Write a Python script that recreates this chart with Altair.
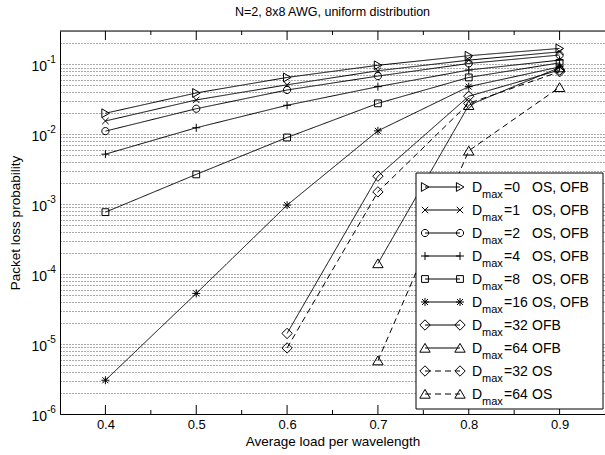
import altair as alt
import pandas as pd

# ---------------- data ----------------
loads = [0.4, 0.5, 0.6, 0.7, 0.8, 0.9]
plr_d0 = [0.020, 0.039, 0.065, 0.097, 0.133, 0.169]
plr_d1 = [0.0155, 0.031, 0.051, 0.081, 0.115, 0.151]
plr_d2 = [0.0111, 0.0232, 0.043, 0.068, 0.103, 0.136]
plr_d4 = [0.0052, 0.0124, 0.026, 0.048, 0.083, 0.115]
plr_d8 = [7.7e-4, 2.67e-3, 9.0e-3, 0.0277, 0.065, 0.105]
plr_d16 = [3.04e-6, 5.3e-5, 9.7e-4, 0.0112, 0.048, 0.092]
loads_d32 = [0.6, 0.7, 0.8, 0.9]
plr_d32_ofb = [1.42e-5, 2.52e-3, 0.035, 0.083]
plr_d32_os = [8.8e-6, 1.5e-3, 0.0277, 0.0785]
loads_d64 = [0.7, 0.8, 0.9]
plr_d64_ofb = [1.42e-4, 0.026, 0.09]
plr_d64_os = [5.8e-6, 5.8e-3, 0.047]

series_keys = ["d0", "d1", "d2", "d4", "d8", "d16", "d32ofb", "d64ofb", "d32os", "d64os"]
series_loads = [loads, loads, loads, loads, loads, loads, loads_d32, loads_d64, loads_d32, loads_d64]
series_plr = [plr_d0, plr_d1, plr_d2, plr_d4, plr_d8, plr_d16, plr_d32_ofb, plr_d64_ofb, plr_d32_os, plr_d64_os]
line_styles = ["solid"] * 8 + ["dashed"] * 2
legend_values = ["=0", "=1", "=2", "=4", "=8", "=16", "=32", "=64", "=32", "=64"]
legend_suffix = ["OS, OFB"] * 6 + ["OFB", "OFB", "OS", "OS"]

x_major = [0.4, 0.5, 0.6, 0.7, 0.8, 0.9]
x_minor = [0.45, 0.55, 0.65, 0.75, 0.85]
y_major = [1e-6, 1e-5, 1e-4, 1e-3, 1e-2, 1e-1]
y_exp = ["-6", "-5", "-4", "-3", "-2", "-1"]

title_text = "N=2, 8x8 AWG, uniform distribution"
x_title = "Average load per wavelength"
y_title = "Packet loss probability"

# marker shapes (unit paths)
shape_paths = [
    "M-0.9,-1.1L1,0L-0.9,1.1Z",                      # triangle right
    "M-0.8,-0.8L0.8,0.8M-0.8,0.8L0.8,-0.8",          # x
    "M0.9,0A0.9,0.9,0,1,1,-0.9,0A0.9,0.9,0,1,1,0.9,0Z",  # circle
    "M-1,0L1,0M0,-1L0,1",                            # +
    "M-0.85,-0.85H0.85V0.85H-0.85Z",                 # square
    "M-1,0L1,0M0,-1L0,1M-0.75,-0.75L0.75,0.75M-0.75,0.75L0.75,-0.75",  # asterisk
    "M0,-1.3L1.3,0L0,1.3L-1.3,0Z",                   # diamond
    "M0,-1.15L1.3,1.05L-1.3,1.05Z",                  # triangle up
    "M0,-1.3L1.3,0L0,1.3L-1.3,0Z",
    "M0,-1.15L1.3,1.05L-1.3,1.05Z",
]

FONT = "Liberation Sans"
W, H = 545, 383

rows = []
for key, xs_, ys_, st in zip(series_keys, series_loads, series_plr, line_styles):
    for a, b in zip(xs_, ys_):
        rows.append({"series": key, "load": a, "plr": b, "style": st})
df = pd.DataFrame(rows)

grid_vals = []
for k in range(-6, 0):
    for m in range(1, 10):
        v = m * 10 ** k
        if v < 0.25:
            grid_vals.append(v)

xs = alt.Scale(domain=[0.35, 0.95], nice=False, zero=False)
ys = alt.Scale(type="log", domain=[1e-6, 0.3], nice=False)

xaxis = alt.Axis(values=x_major, format=".1f", grid=False, ticks=False, tickSize=0,
                 labelFont=FONT, labelFontSize=13, labelColor="black", labelPadding=4,
                 domainColor="black", domainWidth=1, title=x_title, titleFont=FONT,
                 titleFontSize=13.5, titleFontWeight="normal", titleColor="black", titlePadding=3)
yaxis = alt.Axis(values=grid_vals, grid=True, gridDash=[1, 2], gridColor="#555", gridWidth=1,
                 labels=False, ticks=False, tickSize=0, domainColor="black", domainWidth=1,
                 title=y_title, titleFont=FONT, titleFontSize=13.5, titleFontWeight="normal",
                 titleColor="black", titlePadding=38)

X = alt.X("load:Q", scale=xs, axis=xaxis)
Y = alt.Y("plr:Q", scale=ys, axis=yaxis)

shape_scale = alt.Scale(domain=series_keys, range=shape_paths)
dash_scale = alt.Scale(domain=["solid", "dashed"], range=[[1, 0], [6, 4]])

base = alt.Chart(df)
lines = base.mark_line(color="black", strokeWidth=1).encode(
    x=X, y=Y, detail="series:N",
    strokeDash=alt.StrokeDash("style:N", scale=dash_scale, legend=None))
points = base.mark_point(filled=False, color="black", strokeWidth=1, size=64, opacity=1).encode(
    x=X, y=Y, shape=alt.Shape("series:N", scale=shape_scale, legend=None))

# ticks (inward)
tick_major = pd.DataFrame({"load": x_major})
tick_minor = pd.DataFrame({"load": x_minor})
tk = dict(color="black", strokeWidth=1)
tb_major = alt.Chart(tick_major).mark_rule(**tk).encode(x=X, y=alt.value(H), y2=alt.value(H - 9))
tb_minor = alt.Chart(tick_minor).mark_rule(**tk).encode(x=X, y=alt.value(H), y2=alt.value(H - 4))
tt_major = alt.Chart(tick_major).mark_rule(**tk).encode(x=X, y=alt.value(0), y2=alt.value(9))
tt_minor = alt.Chart(tick_minor).mark_rule(**tk).encode(x=X, y=alt.value(0), y2=alt.value(4))
top_border = alt.Chart(pd.DataFrame({"a": [0]})).mark_rule(color="black", strokeWidth=1).encode(
    x=alt.value(0), x2=alt.value(W), y=alt.value(0))

# y tick labels 10^k
ylab_df = pd.DataFrame({"plr": y_major, "exp": y_exp, "base": ["10"] * 6})
ylab_base = alt.Chart(ylab_df).mark_text(font=FONT, fontSize=14, align="right", baseline="middle",
                                         dy=3, color="black").encode(
    x=alt.value(-13), y=Y, text="base:N")
ylab_exp = alt.Chart(ylab_df).mark_text(font=FONT, fontSize=10, align="left", baseline="middle",
                                        dy=-4, color="black").encode(
    x=alt.value(-13), y=Y, text="exp:N")

main = alt.layer(lines, points, tb_major, tb_minor, tt_major, tt_minor, top_border,
                 ylab_base, ylab_exp)

# ---------------- custom legend ----------------
leg_df = pd.DataFrame({
    "row": list(range(len(series_keys))),
    "series": series_keys,
    "style": line_styles,
    "val": legend_values,
    "suffix": legend_suffix,
    "D": ["D"] * len(series_keys),
    "sub": ["max"] * len(series_keys),
})
LY = alt.Y("row:Q", scale=alt.Scale(domain=[0, 9], range=[156, 363]), axis=None)
leg_box = alt.Chart(pd.DataFrame({"a": [0]})).mark_rect(fill="white", stroke="black", strokeWidth=1).encode(
    x=alt.value(356), x2=alt.value(543), y=alt.value(142), y2=alt.value(378))
lb = alt.Chart(leg_df)
leg_line = lb.mark_rule(color="black", strokeWidth=1).encode(
    x=alt.value(365), x2=alt.value(400), y=LY,
    strokeDash=alt.StrokeDash("style:N", scale=dash_scale, legend=None))
leg_p1 = lb.mark_point(filled=False, color="black", strokeWidth=1, size=64, opacity=1).encode(
    x=alt.value(365), y=LY, shape=alt.Shape("series:N", scale=shape_scale, legend=None))
leg_p2 = lb.mark_point(filled=False, color="black", strokeWidth=1, size=64, opacity=1).encode(
    x=alt.value(400), y=LY, shape=alt.Shape("series:N", scale=shape_scale, legend=None))
tx = dict(font=FONT, color="black", align="left", baseline="alphabetic")
leg_D = lb.mark_text(fontSize=14, dy=5, **tx).encode(x=alt.value(412), y=LY, text="D:N")
leg_sub = lb.mark_text(fontSize=11, dy=11, **tx).encode(x=alt.value(422), y=LY, text="sub:N")
leg_val = lb.mark_text(fontSize=14, dy=5, **tx).encode(x=alt.value(444), y=LY, text="val:N")
leg_suf = lb.mark_text(fontSize=14, dy=5, **tx).encode(x=alt.value(472), y=LY, text="suffix:N")

legend = alt.layer(leg_box, leg_line, leg_p1, leg_p2, leg_D, leg_sub, leg_val, leg_suf)

chart = alt.layer(main, legend).resolve_scale(
    x="independent", y="independent", shape="independent", strokeDash="independent"
).properties(
    width=W, height=H,
    title=alt.TitleParams(title_text, font=FONT, fontSize=12.5, fontWeight="normal",
                          color="black", anchor="middle", offset=12),
    padding={"left": 60, "top": 31, "right": 0, "bottom": 41},
    autosize=alt.AutoSizeParams(type="none"),
).configure_view(stroke=None).configure(background="white")

chart.save("out.html", embed_options={"renderer": "svg", "actions": False})
